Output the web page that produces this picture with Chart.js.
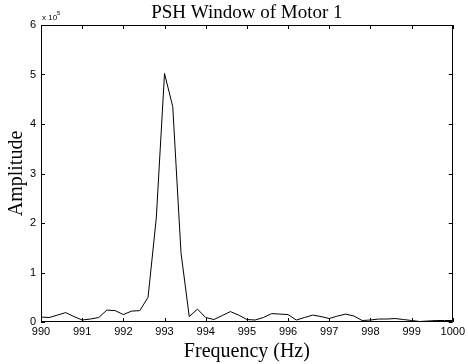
<!DOCTYPE html>
<html>
<head>
<meta charset="utf-8">
<script src="https://cdn.jsdelivr.net/npm/chart.js@4/dist/chart.umd.min.js"></script>
<style>
  html, body { margin: 0; padding: 0; background: #fff; }
</style>
</head>
<body>
<canvas id="psh" width="468" height="364"></canvas>
<script>
// frequency bins (Hz)
const freqHz = [
  990.0, 990.2, 990.4, 990.6, 990.8, 991.0, 991.2, 991.4, 991.6, 991.8,
  992.0, 992.2, 992.4, 992.6, 992.8, 993.0, 993.2, 993.4, 993.6, 993.8,
  994.0, 994.2, 994.4, 994.6, 994.8, 995.0, 995.2, 995.4, 995.6, 995.8,
  996.0, 996.2, 996.4, 996.6, 996.8, 997.0, 997.2, 997.4, 997.6, 997.8,
  998.0, 998.2, 998.4, 998.6, 998.8, 999.0, 999.2, 999.4, 999.6, 999.8,
  1000.0
]
// amplitude, in units of 10^5
const amplitude = [
  0.10, 0.09, 0.14, 0.19, 0.11, 0.04, 0.06, 0.09, 0.24, 0.23,
  0.15, 0.22, 0.23, 0.50, 2.10, 5.02, 4.35, 1.40, 0.11, 0.26,
  0.09, 0.05, 0.13, 0.21, 0.14, 0.05, 0.04, 0.09, 0.17, 0.16,
  0.15, 0.04, 0.09, 0.14, 0.11, 0.07, 0.12, 0.16, 0.12, 0.03,
  0.04, 0.06, 0.06, 0.07, 0.05, 0.03, 0.01, 0.02, 0.03, 0.03,
  0.03
]
const xTicks = [990, 991, 992, 993, 994, 995, 996, 997, 998, 999, 1000]
const yTicks = [0, 1, 2, 3, 4, 5, 6]

const titleText = "PSH Window of Motor 1"
const serif = "'Liberation Serif', 'Times New Roman', serif"
const sans = "'Liberation Sans', Arial, sans-serif"

// matlab style box: frame, inward ticks, title and exponent note
const matlabBox = {
  id: "matlabBox",
  afterDraw(chart) {
    const {ctx, chartArea: a, scales} = chart
    ctx.save()
    ctx.strokeStyle = "#000"
    ctx.lineWidth = 1
    ctx.beginPath()
    ctx.rect(Math.round(a.left) + 0.5, Math.round(a.top) + 0.5,
             Math.round(a.right - a.left) - 1, Math.round(a.bottom - a.top) - 1)
    const tl = 4
    scales.x.ticks.forEach(t => {
      const px = Math.round(scales.x.getPixelForValue(t.value)) + 0.5
      ctx.moveTo(px, a.bottom); ctx.lineTo(px, a.bottom - tl)
      ctx.moveTo(px, a.top); ctx.lineTo(px, a.top + tl)
    })
    scales.y.ticks.forEach(t => {
      const py = Math.round(scales.y.getPixelForValue(t.value)) + 0.5
      ctx.moveTo(a.left, py); ctx.lineTo(a.left + tl, py)
      ctx.moveTo(a.right, py); ctx.lineTo(a.right - tl, py)
    })
    ctx.stroke()

    ctx.fillStyle = "#000"
    ctx.textAlign = "center"
    ctx.textBaseline = "alphabetic"
    ctx.font = "19px " + serif
    ctx.fillText(titleText, (a.left + a.right) / 2, 18)

    ctx.textAlign = "left"
    ctx.font = "8px " + sans
    ctx.fillText("x 10", a.left + 1, 20)
    ctx.font = "6px " + sans
    ctx.fillText("5", a.left + 16, 15)
    ctx.restore()
  }
}

new Chart(document.getElementById("psh"), {
  type: "line",
  data: {
    datasets: [{
      data: freqHz.map((f, i) => ({x: f, y: amplitude[i]})),
      borderColor: "#000",
      borderWidth: 1,
      pointRadius: 0,
      tension: 0,
      fill: false
    }]
  },
  options: {
    responsive: false,
    animation: false,
    devicePixelRatio: 1,
    layout: {padding: {top: 25, right: 11, left: 0, bottom: 0}},
    plugins: {legend: {display: false}, tooltip: {enabled: false}},
    scales: {
      x: {
        type: "linear",
        min: 990, max: 1000,
        afterBuildTicks: s => { s.ticks = xTicks.map(v => ({value: v})) },
        afterFit: s => { s.height = 42 },
        grid: {display: false, drawTicks: false, tickLength: 0},
        border: {display: false},
        ticks: {color: "#000", font: {family: sans, size: 11}, padding: 3, maxRotation: 0,
                callback: v => String(v)},
        title: {display: true, text: "Frequency (Hz)", color: "#000",
                font: {family: serif, size: 20}, padding: {top: 0, bottom: 0}}
      },
      y: {
        type: "linear",
        min: 0, max: 6,
        afterBuildTicks: s => { s.ticks = yTicks.map(v => ({value: v})) },
        afterFit: s => { s.width = 41 },
        grid: {display: false, drawTicks: false, tickLength: 0},
        border: {display: false},
        ticks: {color: "#000", font: {family: sans, size: 11}, padding: 5,
                callback: v => String(v)},
        title: {display: true, text: "Amplitude", color: "#000",
                font: {family: serif, size: 20}, padding: {top: 5, bottom: 0}}
      }
    }
  },
  plugins: [matlabBox]
})
</script>
</body>
</html>
